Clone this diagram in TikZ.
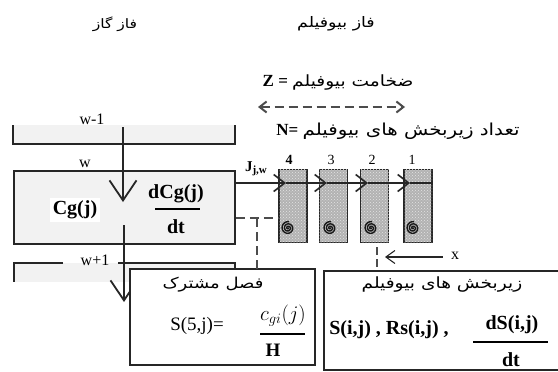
\documentclass[tikz,border=0pt]{standalone}
\usepackage{fontspec}
\setmainfont{Liberation Serif}
\newfontfamily\fa[Script=Arabic,FakeStretch=1.2]{DejaVu Sans}
\TeXXeTstate=1
\usetikzlibrary{arrows.meta,patterns}
\newcommand\fsz[1]{\fontsize{#1}{#1}\selectfont}
\begin{document}
\begin{tikzpicture}[x=1pt,y=-1pt,
  ln/.style={line width=1.4pt, black!85},
  gbox/.style={draw, line width=1.5pt, black!85, fill=gray!10},
  blk/.style={draw, line width=1.3pt, black!85, fill=gray!60,
     postaction={pattern=crosshatch dots, pattern color=white!80!gray},
     minimum width=28, minimum height=73, inner sep=0pt},
  barb/.style={-{Straight Barb[length=11pt,width=17pt,line width=1.6pt]}},
  bigv/.style={-{Straight Barb[length=20pt,width=27pt,line width=1.8pt]}},
  dsh/.style={line width=1.2pt, black!70, dash pattern=on 9pt off 5pt},
  fatxt/.style={font=\fa, inner sep=1pt},
  tbox/.style={draw, line width=1.5pt, black!85, fill=white},
]
\useasboundingbox (0,0) rectangle (558,372);

% headings
\node[fatxt] (tgas) at (115,24) {\fsz{13}\beginR فاز گاز\endR};
\node[fatxt] (tbio) at (336,24) {\fsz{14.5}\beginR فاز بیوفیلم\endR};

% thickness / number
\node[inner sep=1pt] (zt) at (338,83) {\fsz{17}\textbf{Z =} {\fa\fsz{15.5}\beginR ضخامت بیوفیلم\endR}};
\coordinate (zl) at (258,107);
\coordinate (zr) at (405,107);
\draw[line width=2pt, black!70, dash pattern=on 9pt off 5pt,
  {Straight Barb[length=7pt,width=11pt,line width=2pt]}-{Straight Barb[length=7pt,width=11pt,line width=2pt]}] (zl) -- (zr);
\node[inner sep=1pt] (nt) at (398,131) {\fsz{17}\textbf{N=} {\fa\fsz{16.5}\beginR تعداد زیربخش های بیوفیلم\endR}};

% w-1 box (open top)
\fill[gray!10] (13,125) rectangle (235,144);
\draw[ln, line width=1.5pt] (13,125) -- (13,144) -- (235,144) -- (235,125);
\node[inner sep=0pt] (lw1) at (92,119) {\fsz{16}w-1};

% w+1 box
\fill[gray!10] (14,263) rectangle (235,282);
\draw[ln, line width=1.5pt] (63,263) -- (14,263) -- (14,282);
\draw[ln, line width=1.5pt] (118,263) -- (235,263) -- (235,282);
\node[inner sep=0pt] (lw3) at (95,260) {\fsz{16}w+1};

% main gas box
\node[gbox, minimum width=221, minimum height=73, inner sep=0pt] (gb) at (124.5,207.5) {};
\node[inner sep=0pt] (lw2) at (85,164) {\fsz{16}w};
\node[fill=white, inner sep=3pt] (cg) at (75,210) {\fsz{20}\textbf{Cg(j)}};
\node[inner sep=0pt] (dcg) at (176,194) {\fsz{20}\textbf{dCg(j)}};
\node[inner sep=0pt] (dt1) at (176,227) {\fsz{20}\textbf{dt}};
\draw[line width=1.3pt] (155,209) -- (200,209);

% vertical flow
\coordinate (vtop) at (123,127);
\coordinate (vtip) at (123,202);
\draw[ln, bigv] (vtop) -- (vtip);
\coordinate (vb1) at (124,225);
\coordinate (vb2) at (124,302);
\draw[ln, bigv] (vb1) -- (vb2);

% biofilm blocks
\node[blk] (b4) at (293,206) {};
\node[blk] (b3) at (333.5,206) {};
\node[blk] (b2) at (374.5,206) {};
\node[blk] (b1) at (418,206) {};
\node[inner sep=0pt] (n4) at (289,160) {\fsz{14}\textbf{4}};
\node[inner sep=0pt] (n3) at (331,160) {\fsz{14}3};
\node[inner sep=0pt] (n2) at (372,160) {\fsz{14}2};
\node[inner sep=0pt] (n1) at (412,160) {\fsz{14}1};

% spirals
\foreach \cx in {288,330,371,413}{
  \draw[line width=1.4pt, black!90] plot[domain=0:1000,samples=90,smooth,variable=\t]
    ({\cx+6.5*\t/1000*cos(\t)},{228+6.5*\t/1000*sin(\t)});
}

% flux arrows
\node[inner sep=0pt] (jl) at (256,169) {\fsz{15}\textbf{J}\raisebox{-2pt}{\fsz{11}\textbf{j,w}}};
\coordinate (j0) at (gb.east |- 0,183);
\coordinate (t4) at (286,183);
\coordinate (t3) at (327,183);
\coordinate (t2) at (368,183);
\coordinate (t1) at (410,183);
\coordinate (je) at (b1.east |- 0,183);
\draw[ln, barb] (j0) -- (t4);
\draw[ln, barb] (t4) -- (t3);
\draw[ln, barb] (t3) -- (t2);
\draw[ln, barb] (t2) -- (t1);
\draw[ln] (t1) -- (je);

% interface box
\node[tbox, minimum width=185, minimum height=96, inner sep=0pt] (sb) at (222.5,317) {};
\node[fatxt] (sbt) at (213,285) {\fsz{15}\beginR فصل مشترک\endR};
\node[inner sep=0pt] (s5) at (197,326) {\fsz{19}S(5,j)=};
\node[inner sep=0pt] (cgi) at (283,316) {\fsz{20}$c_{gi}(j)$};
\node[inner sep=0pt] (hh) at (273,350) {\fsz{19}\textbf{H}};
\draw[line width=1.3pt] (260,334) -- (305,334);

% dashed interface lines
\coordinate (d0) at (gb.east |- 0,218);
\coordinate (d1) at (b4.west |- 0,218);
\draw[dsh] (d0) -- (d1);
\coordinate (d2) at (257,218);
\coordinate (d3) at (257,269);
\draw[dsh] (d2) -- (d3);

% biofilm subsections box
\node[tbox, minimum width=236, minimum height=99, inner sep=0pt] (rb) at (442,320.5) {};
\node[fatxt] (rbt) at (442,285) {\fsz{15.5}\beginR زیربخش های بیوفیلم\endR};
\node[inner sep=0pt] (sij) at (389,330) {\fsz{20}\textbf{S(i,j) , Rs(i,j) ,}};
\node[inner sep=0pt] (dsij) at (512,325) {\fsz{20}\textbf{dS(i,j)}};
\node[inner sep=0pt] (dt2) at (511,360) {\fsz{20}\textbf{dt}};
\draw[line width=1.3pt] (473,342) -- (548,342);

% x direction
\coordinate (x0) at (377,247);
\coordinate (x1) at (377,267);
\draw[dsh, dash pattern=on 8pt off 4pt] (x0) -- (x1);
\node[inner sep=0pt] (xl) at (455,256) {\fsz{16}x};
\coordinate (xe) at (385,257);
\draw[ln, line width=1.1pt, -{Straight Barb[length=9pt,width=13pt,line width=1.1pt]}] (xl.west) ++(-8,1) -- (xe);
\end{tikzpicture}
\end{document}
